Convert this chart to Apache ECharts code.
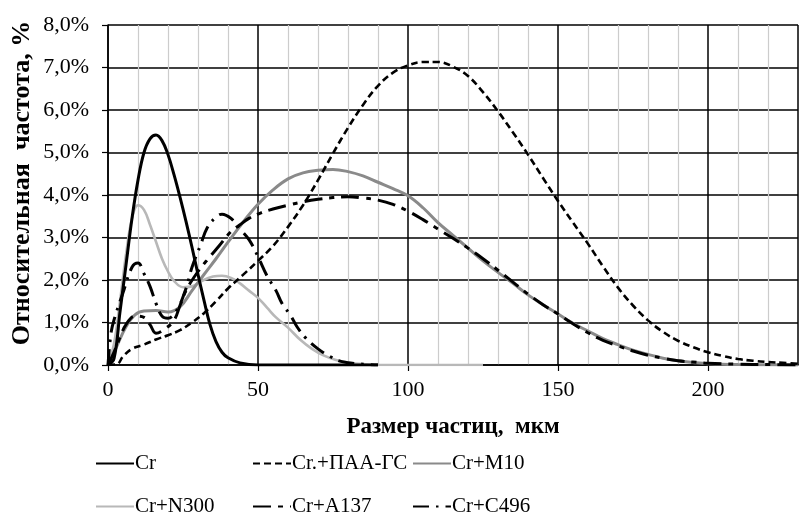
<!DOCTYPE html>
<html><head><meta charset="utf-8">
<script src="https://cdn.jsdelivr.net/npm/echarts@6/dist/echarts.min.js"></script>
<style>html,body{margin:0;padding:0;background:#fff}#c{width:800px;height:523px}</style>
</head><body><div id="c"></div>
<script>
// Data (x: particle size, µm; y: relative frequency, %)
const seriesNames = ['Cr', 'Cr.+ПАА-ГС', 'Cr+M10', 'Cr+N300', 'Cr+A137', 'Cr+C496'];
const crX   = [0, 2, 4, 6, 8, 10, 12, 14, 16, 18, 20, 22, 24, 26, 28, 30, 32, 34, 36, 38, 40, 44, 50, 60, 90];
const crY   = [0, 0.15, 1.25, 2.35, 3.45, 4.35, 5.0, 5.32, 5.41, 5.28, 4.95, 4.48, 3.95, 3.38, 2.77, 2.13, 1.52, 0.95, 0.55, 0.3, 0.17, 0.05, 0, 0, 0];
const paaX  = [0, 3, 5, 8, 12, 16, 20, 24, 28, 32, 36, 40, 45, 50, 55, 60, 65, 70, 75, 80, 85, 90, 95, 100, 105, 110, 115, 120, 125, 130, 135, 140, 145, 150, 155, 160, 165, 170, 175, 180, 185, 190, 195, 200, 205, 210, 215, 220, 225, 230];
const paaY  = [0, 0.02, 0.2, 0.38, 0.48, 0.6, 0.7, 0.82, 1.0, 1.22, 1.5, 1.8, 2.12, 2.45, 2.8, 3.25, 3.76, 4.35, 4.98, 5.58, 6.12, 6.57, 6.88, 7.05, 7.13, 7.13, 7.02, 6.8, 6.42, 5.97, 5.47, 4.95, 4.4, 3.86, 3.35, 2.85, 2.32, 1.82, 1.4, 1.05, 0.78, 0.57, 0.42, 0.3, 0.21, 0.14, 0.1, 0.07, 0.05, 0.03];
const m10X  = [0, 3, 6, 9, 12, 16, 20, 24, 28, 32, 36, 40, 45, 50, 55, 60, 65, 70, 75, 80, 85, 90, 95, 100, 105, 110, 115, 120, 125, 130, 135, 140, 145, 150, 155, 160, 165, 170, 175, 180, 185, 190, 195, 200, 210, 230];
const m10Y  = [0, 0.45, 0.9, 1.18, 1.27, 1.28, 1.25, 1.37, 1.75, 2.13, 2.5, 2.89, 3.36, 3.78, 4.12, 4.38, 4.52, 4.58, 4.6, 4.55, 4.45, 4.3, 4.15, 3.98, 3.7, 3.35, 3.05, 2.75, 2.45, 2.18, 1.92, 1.65, 1.42, 1.2, 0.98, 0.8, 0.62, 0.48, 0.35, 0.25, 0.16, 0.1, 0.06, 0.03, 0.01, 0];
const n300X = [0, 2, 4, 6, 8, 10, 12, 14, 16, 18, 20, 22, 25, 28, 31, 35, 38, 41, 44, 47, 50, 53, 56, 60, 64, 68, 72, 76, 80, 85, 90, 125];
const n300Y = [0, 0.5, 1.5, 2.6, 3.45, 3.76, 3.65, 3.3, 2.9, 2.5, 2.2, 1.98, 1.83, 1.85, 1.97, 2.08, 2.1, 2.05, 1.92, 1.75, 1.58, 1.35, 1.12, 0.88, 0.6, 0.38, 0.22, 0.12, 0.06, 0.02, 0, 0];
const a137X = [0, 2, 4, 6, 9, 12, 14, 16, 19, 22, 24, 26, 30, 34, 37, 41, 44, 47, 51, 55, 60, 65, 70, 75, 80, 85, 90, 95, 100, 105, 110, 115, 120, 125, 130, 135, 140, 145, 150, 155, 160, 165, 170, 175, 180, 185, 190, 195, 200, 210, 220, 230];
const a137Y = [0, 0.3, 0.65, 0.95, 1.15, 1.12, 0.95, 0.75, 0.85, 1.05, 1.4, 1.75, 2.2, 2.55, 2.8, 3.14, 3.3, 3.45, 3.58, 3.67, 3.76, 3.84, 3.9, 3.94, 3.96, 3.93, 3.88, 3.78, 3.62, 3.42, 3.2, 2.98, 2.75, 2.5, 2.23, 1.95, 1.67, 1.42, 1.2, 0.97, 0.76, 0.58, 0.45, 0.33, 0.23, 0.16, 0.1, 0.07, 0.04, 0.02, 0.01, 0];
const c496X = [0, 1, 2, 5, 8, 10, 12, 14, 16, 18, 20, 23, 26, 28, 31, 33, 36, 38, 41, 44, 47, 50, 53, 56, 58, 61, 63, 66, 70, 74, 78, 85, 90];
const c496Y = [0, 0.75, 1.06, 1.7, 2.3, 2.4, 2.15, 1.85, 1.45, 1.15, 1.1, 1.3, 1.8, 2.3, 2.85, 3.22, 3.48, 3.55, 3.45, 3.2, 2.95, 2.55, 2.1, 1.75, 1.45, 1.15, 0.9, 0.63, 0.38, 0.2, 0.08, 0.02, 0];
const yTicks = [0, 1, 2, 3, 4, 5, 6, 7, 8];

const FONT = '"Liberation Serif", "Times New Roman", serif';
function pairs(xs, ys) { return xs.map((x, i) => [x, ys[i]]); }

const styles = [
  { color: '#000', width: 3, type: 'solid' },
  { color: '#000', width: 2.6, type: [7, 4] },
  { color: '#8a8a8a', width: 3, type: 'solid' },
  { color: '#b8b8b8', width: 2.6, type: 'solid' },
  { color: '#000', width: 3, type: [18, 7, 5, 7] },
  { color: '#000', width: 3, type: [16, 7, 2.5, 7] }
];
const datasets = [pairs(crX, crY), pairs(paaX, paaY), pairs(m10X, m10Y), pairs(n300X, n300Y), pairs(a137X, a137Y), pairs(c496X, c496Y)];
const zOrder = [6, 5, 3, 2, 4, 4];

const series = seriesNames.map((n, i) => ({
  name: n, type: 'line', data: datasets[i], smooth: 0.4, symbol: 'none',
  z: zOrder[i],
  lineStyle: { color: styles[i].color, width: styles[i].width, type: styles[i].type },
  itemStyle: { color: styles[i].color }
}));

const legendPos = [[90, 448], [247, 448], [407, 448], [90, 491], [247, 491], [407, 491]];
const legends = seriesNames.map((n, i) => ({
  data: [n], left: legendPos[i][0], top: legendPos[i][1],
  itemWidth: 38, itemHeight: 14, itemGap: 2,
  itemStyle: { opacity: 0 },
  textStyle: { fontFamily: FONT, fontSize: 21, color: '#000', padding: [0, 0, 0, -4] },
  selectedMode: false
}));

const chart = echarts.init(document.getElementById('c'), null, { renderer: 'canvas' });
chart.setOption({
  animation: false,
  backgroundColor: '#fff',
  grid: { left: 108, top: 25, right: 2, bottom: 158, containLabel: false },
  legend: legends,
  graphic: [{
    type: 'text', x: 22, y: 183, rotation: Math.PI / 2,
    style: { text: 'Относительная  частота, %', fontFamily: FONT, fontSize: 26, fontWeight: 'bold',
      fill: '#000', align: 'center', verticalAlign: 'middle' }
  }],
  xAxis: {
    type: 'value', min: 0, max: 230, interval: 50,
    name: 'Размер частиц,  мкм', nameLocation: 'middle', nameGap: 51,
    nameTextStyle: { fontFamily: FONT, fontSize: 23, fontWeight: 'bold', color: '#000' },
    axisLine: { show: true, lineStyle: { color: '#000', width: 1.5 } },
    axisTick: { show: true, length: 6, lineStyle: { color: '#000', width: 1.2 } },
    axisLabel: { fontFamily: FONT, fontSize: 22, color: '#000', margin: 14, showMaxLabel: false },
    splitLine: { show: true, lineStyle: { color: '#000', width: 1.5 } },
    minorTick: { show: false, splitNumber: 5 },
    minorSplitLine: { show: true, lineStyle: { color: '#cccccc', width: 1.2 } }
  },
  yAxis: {
    type: 'value', min: yTicks[0], max: yTicks[yTicks.length - 1], interval: 1,
    axisLine: { show: true, lineStyle: { color: '#000', width: 1.5 } },
    axisTick: { show: true, length: 6, lineStyle: { color: '#000', width: 1.2 } },
    axisLabel: { fontFamily: FONT, fontSize: 22, color: '#000', margin: 19,
      formatter: v => v.toFixed(1).replace('.', ',') + '%' },
    splitLine: { show: true, lineStyle: { color: '#000', width: 1.5 } }
  },
  series: series
});
</script></body></html>
